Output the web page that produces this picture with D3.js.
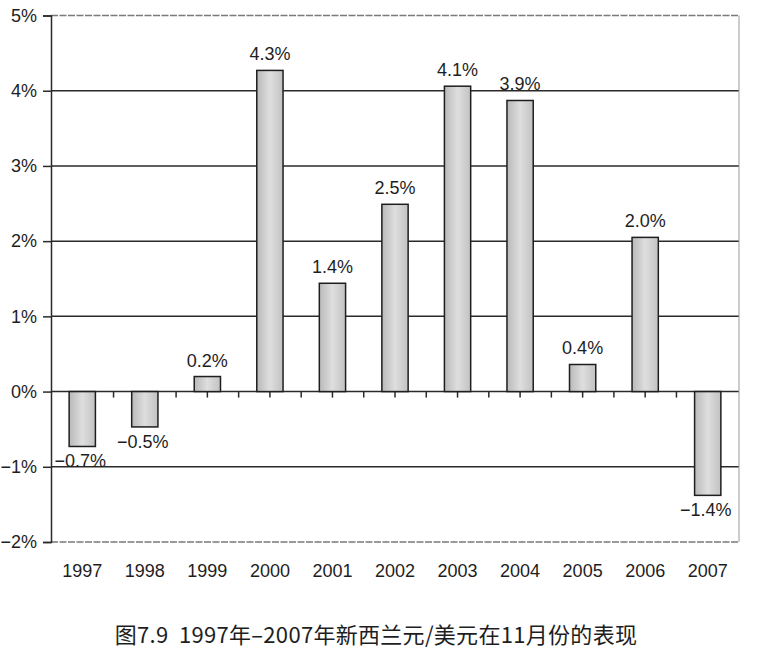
<!DOCTYPE html>
<html>
<head>
<meta charset="utf-8">
<script src="https://cdn.jsdelivr.net/npm/d3@7"></script>
<style>
  body { margin: 0; background: #fff; }
  text { font-family: "Liberation Sans", Arial, sans-serif; fill: #1e1e1e; }
</style>
</head>
<body>
<div id="chart"></div>
<script>
const years = ["1997", "1998", "1999", "2000", "2001", "2002", "2003", "2004", "2005", "2006", "2007"];
const returns = [-0.73, -0.47, 0.2, 4.27, 1.44, 2.49, 4.06, 3.87, 0.36, 2.05, -1.38];
const valueLabels = ["−0.7%", "−0.5%", "0.2%", "4.3%", "1.4%", "2.5%", "4.1%", "3.9%", "0.4%", "2.0%", "−1.4%"];
const yTicks = [-2, -1, 0, 1, 2, 3, 4, 5];
const caption = "图7.9  1997年–2007年新西兰元/美元在11月份的表现";

const width = 774, height = 663;
const margin = {top: 15.5, right: 35, bottom: 121, left: 51};

const svg = d3.select("#chart")
    .append("svg")
    .attr("width", width)
    .attr("height", height);

// bar fill: darker edges, lighter middle
const grad = svg.append("defs").append("linearGradient")
    .attr("id", "barFill")
    .attr("x1", "0%").attr("x2", "100%");
grad.append("stop").attr("offset", "0%").attr("stop-color", "#b9b9b9");
grad.append("stop").attr("offset", "50%").attr("stop-color", "#dedede");
grad.append("stop").attr("offset", "100%").attr("stop-color", "#c2c2c2");

const x = d3.scaleBand()
    .domain(years)
    .range([margin.left, width - margin.right])
    .paddingInner(0.58)
    .paddingOuter(0.29);

const y = d3.scaleLinear()
    .domain([-2, 5])
    .range([height - margin.bottom, margin.top]);

// gridlines
svg.append("g")
    .selectAll("line")
    .data(yTicks)
    .enter()
    .append("line")
    .attr("x1", margin.left)
    .attr("x2", width - margin.right)
    .attr("y1", d => y(d))
    .attr("y2", d => y(d))
    .attr("stroke", d => (d === 5 || d === -2) ? "#7a7a7a" : "#2a2a2a")
    .attr("stroke-width", d => (d === 5 || d === -2) ? 1.3 : 1.5)
    .attr("stroke-dasharray", d => (d === 5 || d === -2) ? "7,1.5" : null);

// right border
svg.append("line")
    .attr("x1", width - margin.right)
    .attr("x2", width - margin.right)
    .attr("y1", y(5))
    .attr("y2", y(-2))
    .attr("stroke", "#9a9a9a")
    .attr("stroke-width", 1);

// small ticks on the zero line, every half band
const step = x.step();
const halfTicks = d3.range(1, years.length * 2).map(i => margin.left + i * step / 2);
svg.append("g")
    .selectAll("line")
    .data(halfTicks)
    .enter()
    .append("line")
    .attr("x1", d => d)
    .attr("x2", d => d)
    .attr("y1", y(0))
    .attr("y2", y(0) + 6)
    .attr("stroke", "#2a2a2a")
    .attr("stroke-width", 1.5);

// bars
svg.append("g")
    .selectAll("rect")
    .data(returns)
    .enter()
    .append("rect")
    .attr("x", (d, i) => x(years[i]))
    .attr("width", x.bandwidth())
    .attr("y", d => y(Math.max(0, d)))
    .attr("height", d => Math.abs(y(d) - y(0)))
    .attr("fill", "url(#barFill)")
    .attr("stroke", "#1e1e1e")
    .attr("stroke-width", 1.5);

// value labels
svg.append("g")
    .selectAll("text")
    .data(returns)
    .enter()
    .append("text")
    .attr("x", (d, i) => x(years[i]) + x.bandwidth() / 2 - (d < 0 ? 2 : 0))
    .attr("y", d => d >= 0 ? y(d) - 10 : y(d) + 21)
    .attr("text-anchor", "middle")
    .style("font-size", "18px")
    .text((d, i) => valueLabels[i]);

// y axis
const yAxis = svg.append("g")
    .attr("transform", `translate(${margin.left},0)`)
    .call(d3.axisLeft(y)
        .tickValues(yTicks)
        .tickSize(8)
        .tickPadding(6)
        .tickFormat(d => (d < 0 ? "−" + Math.abs(d) : d) + "%"));
yAxis.select(".domain").attr("stroke", "#2a2a2a").attr("stroke-width", 1.5);
yAxis.selectAll(".tick line").attr("stroke", "#2a2a2a").attr("stroke-width", 1.5);
yAxis.selectAll(".tick text")
    .style("font-size", "18px")
    .style("font-family", "'Liberation Sans', Arial, sans-serif")
    .attr("fill", "#1e1e1e");

// year labels
svg.append("g")
    .selectAll("text")
    .data(years)
    .enter()
    .append("text")
    .attr("x", d => x(d) + x.bandwidth() / 2)
    .attr("y", 577)
    .attr("text-anchor", "middle")
    .style("font-size", "18px")
    .text(d => d);

// caption
svg.append("text")
    .attr("x", 376)
    .attr("y", 643)
    .attr("text-anchor", "middle")
    .attr("xml:space", "preserve")
    .style("white-space", "pre")
    .style("font-family", "'Noto Sans CJK SC', 'Liberation Sans', sans-serif")
    .style("font-size", "22px")
    .style("letter-spacing", "0.3px")
    .text(caption);
</script>
</body>
</html>
